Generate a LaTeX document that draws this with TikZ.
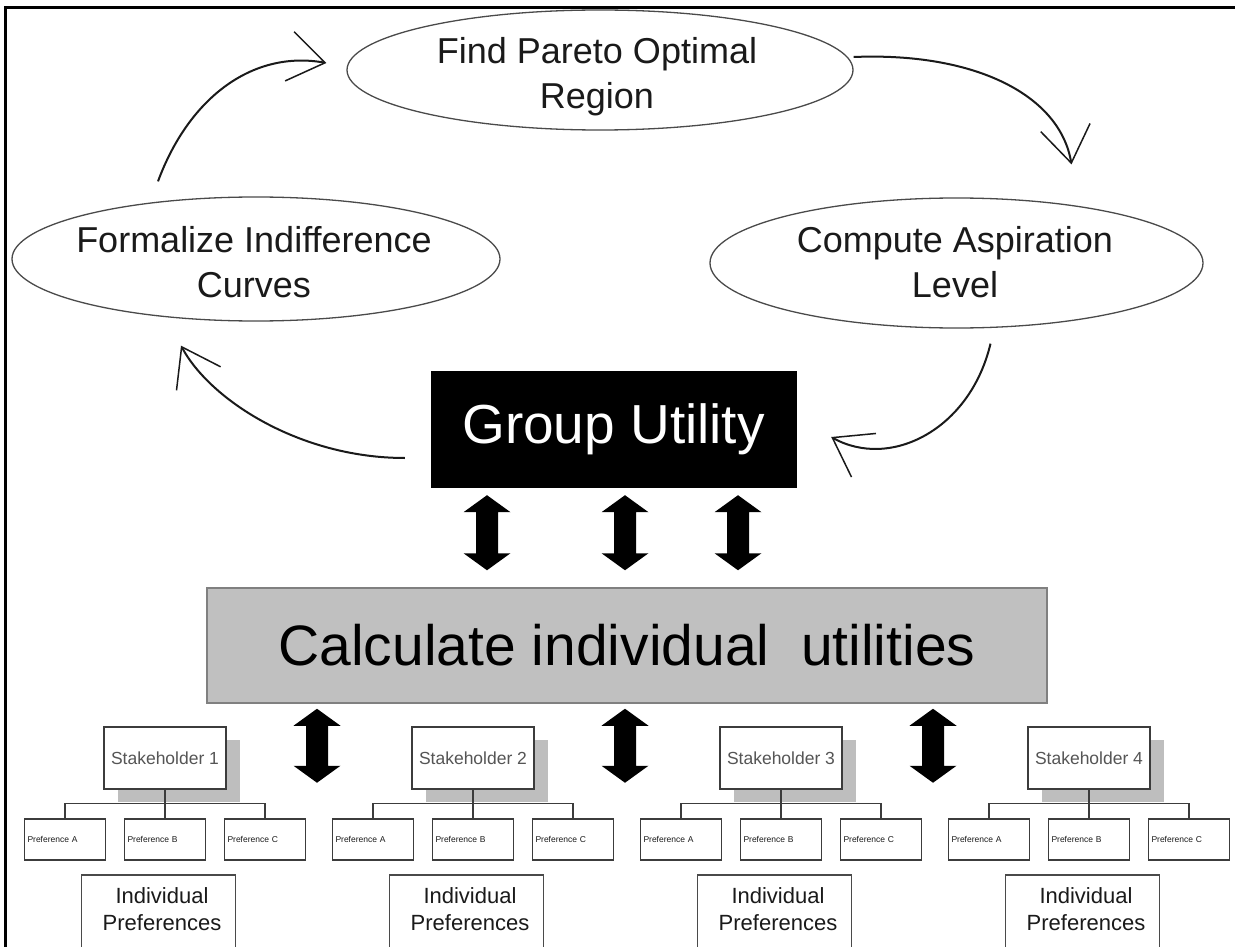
\documentclass[tikz,border=0pt]{standalone}
\usepackage{fontspec}
\setmainfont{Liberation Sans}
\usetikzlibrary{shapes.geometric,arrows.meta,calc,shadows}

\definecolor{inkgray}{HTML}{1A1A1A}
\definecolor{ovalline}{HTML}{4A4A4A}
\definecolor{calcfill}{HTML}{C0C0C0}
\definecolor{calcline}{HTML}{808080}
\definecolor{shadowgray}{HTML}{BEBEBE}
\definecolor{boxline}{HTML}{3C3C3C}
\definecolor{stakegray}{HTML}{555555}

\begin{document}
\begin{tikzpicture}[x=1pt,y=-1pt,
  every node/.style={inner sep=0pt},
  oval/.style={ellipse, draw=ovalline, line width=1.3pt},
  ovaltext/.style={font=\fontsize{36}{45}\selectfont, align=center, anchor=north, text=inkgray},
  flow/.style={draw=inkgray, line width=2pt,
    -{Straight Barb[length=36pt,width=50pt,line width=1.5pt]}},
  blockdbl/.style={to path={let \p1=(\tikztostart), \p2=(\tikztotarget) in
    (\x1,\y1) -- ({\x1+23.5pt},{\y1-17pt}) -- ({\x1+11pt},{\y1-17pt})
    -- ({\x1+11pt},{\y2+17pt}) -- ({\x1+23.5pt},{\y2+17pt}) -- (\x1,\y2)
    -- ({\x1-23.5pt},{\y2+17pt}) -- ({\x1-11pt},{\y2+17pt})
    -- ({\x1-11pt},{\y1-17pt}) -- ({\x1-23.5pt},{\y1-17pt}) -- cycle}},
  stakebox/.style={draw=boxline, fill=white, line width=1.3pt,
    minimum width=122pt, minimum height=62pt, text=stakegray,
    font=\fontsize{17.5}{20}\selectfont,
    drop shadow={shadow xshift=14pt, shadow yshift=-13pt, fill=shadowgray, opacity=1}},
  prefbox/.style={draw=boxline, fill=white, line width=1.2pt,
    minimum height=41pt, text width=75pt, inner xsep=3pt, align=left,
    text=inkgray, font=\fontsize{8.5}{10}\selectfont},
  tree/.style={draw=boxline, line width=1.2pt},
  indbox/.style={draw=ovalline, line width=1.4pt, minimum width=154pt, minimum height=85pt},
  indtext/.style={font=\fontsize{22}{27}\selectfont, align=center, anchor=north, text=inkgray}]

\useasboundingbox (0,0) rectangle (1235,947);
\fill[white] (0,0) rectangle (1235,947);
% outer frame: left and top edges
\draw[line width=3pt] (5.5,980) -- (5.5,7.5) -- (1260,7.5);

% decision cycle
\node[oval, minimum width=506pt, minimum height=120pt] (pareto) at (600,70) {};
\node[oval, minimum width=488pt, minimum height=124pt] (formalize) at (256,259) {};
\node[oval, minimum width=493pt, minimum height=130pt] (compute) at (956.5,263) {};
\node[ovaltext] (pareto-t) at (597,37) {Find Pareto Optimal\\Region};
\node[ovaltext] (formalize-t) at (254,226) {Formalize Indifference\\Curves};
\node[ovaltext] (compute-t) at (955,226) {Compute Aspiration\\Level};

\node[draw=black, fill=black, minimum width=365pt, minimum height=116pt,
  text=white, font=\fontsize{55}{66}\selectfont] (group) at (613.5,429) {Group Utility};
\node[draw=calcline, fill=calcfill, line width=1.5pt, minimum width=840pt,
  minimum height=115pt, text=black, font=\fontsize{57}{68}\selectfont]
  (calc) at (627,645.5) {Calculate individual\ \ utilities};

\draw[flow] ([shift={(-98,-15)}]formalize.north) .. controls (190,95) and (255,50) .. ([shift={(-20,-7)}]pareto.west);
\draw[flow] ([shift={(0,-13)}]pareto.east) .. controls (975,52) and (1060,95) .. ([shift={(115,-33)}]compute.north);
\draw[flow] ([shift={(34,15)}]compute.south) .. controls (970,430) and (890,470) .. ([shift={(35,8)}]group.east);
\draw[flow] ([shift={(-26,29)}]group.west) .. controls (300,458) and (210,400) .. ([shift={(-75,24)}]formalize.south);

% block arrows between group utility and individual utilities
\fill[black] ([shift={(-126.5,8)}]group.south) to[blockdbl] ([shift={(-140,-17)}]calc.north);
\fill[black] ([shift={(11.5,8)}]group.south) to[blockdbl] ([shift={(-2,-17)}]calc.north);
\fill[black] ([shift={(124.5,8)}]group.south) to[blockdbl] ([shift={(111,-17)}]calc.north);

% block arrows towards the stakeholders
\coordinate (low1) at ([shift={(-310,79)}]calc.south);
\coordinate (low2) at ([shift={(-2,79)}]calc.south);
\coordinate (low3) at ([shift={(306,79)}]calc.south);
\fill[black] ([shift={(-310,5)}]calc.south) to[blockdbl] (low1);
\fill[black] ([shift={(-2,5)}]calc.south) to[blockdbl] (low2);
\fill[black] ([shift={(306,5)}]calc.south) to[blockdbl] (low3);

% stakeholders and their preferences
\foreach \k in {1,...,4}{
  \pgfmathsetmacro{\cx}{165+308*(\k-1)}
  \node[stakebox] (s\k) at (\cx,758) {Stakeholder \k};
  \node[prefbox] (pa\k) at ({\cx-100},839.5) {Preference A};
  \node[prefbox] (pb\k) at (\cx,839.5) {Preference B};
  \node[prefbox] (pc\k) at ({\cx+100},839.5) {Preference C};
  \draw[tree] (s\k.south) -- (pb\k.north);
  \draw[tree] (s\k.south) ++(0,14) -| (pa\k.north);
  \draw[tree] (s\k.south) ++(0,14) -| (pc\k.north);
  \node[indbox] (ib\k) at ({\cx-6.5},917.5) {};
  \node[indtext] (it\k) at ({\cx-3},887) {Individual\\Preferences};
}
\end{tikzpicture}
\end{document}
